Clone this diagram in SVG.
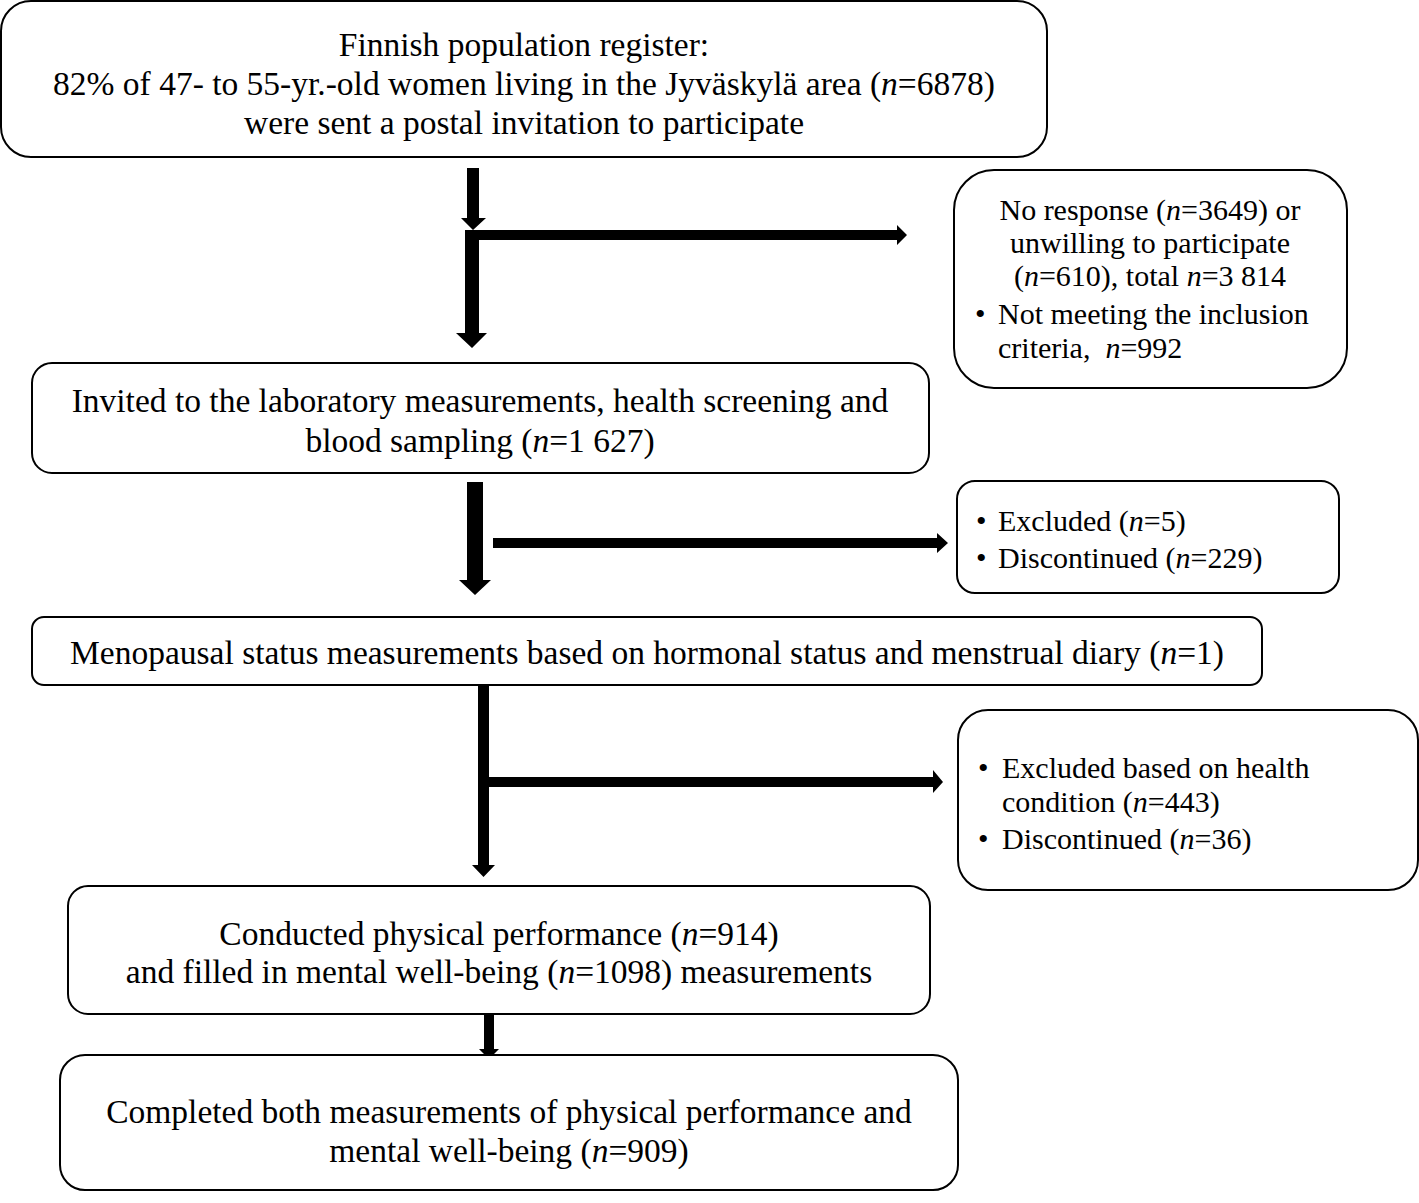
<svg xmlns="http://www.w3.org/2000/svg" width="1419" height="1203" viewBox="0 0 1419 1203">
<style>
.box{fill:#fff;stroke:#000;stroke-width:2}
text{font-family:"Liberation Serif","Times New Roman",serif;font-size:33.5px;fill:#000}
.s{font-size:30px}
.c{text-anchor:middle}
.arrow{fill:#000;stroke:none}
</style>
<rect width="1419" height="1203" fill="#fff"/>
<g id="connectors">
<path class="arrow" d="M467,168 H479 V218 H486 L473,230 L461,218 H467 Z"/>
<path class="arrow" d="M465,230 H897 V225 L907,235 L897,245 V240 H479 V333 H487 L472,348 L456,333 H465 Z"/>
<path class="arrow" d="M467,482 H483 V580 H491 L475,595 L459,580 H467 Z"/>
<path class="arrow" d="M493,538 H937 V533 L948,543 L937,553 V548 H493 Z"/>
<path class="arrow" d="M478,683 H489 V777 H933 V770 L943,782 L933,793 V787 H489 V865 H495 L483.5,877 L472,865 H478 Z"/>
<path class="arrow" d="M484,1005 H494 V1049 H499 L489,1059 L479,1049 H484 Z"/>
</g>
<g id="n1">
<rect class="box" x="1" y="1" width="1046" height="156" rx="30"/>
<text class="c" x="524" y="56">Finnish population register:</text>
<text class="c" x="524" y="95">82% of 47- to 55-yr.-old women living in the Jyväskylä area (<tspan font-style="italic">n</tspan>=6878)</text>
<text class="c" x="524" y="134">were sent a postal invitation to participate</text>
</g>
<g id="n1x">
<rect class="box" x="954" y="170" width="393" height="218" rx="40"/>
<text class="c s" x="1150" y="220">No response (<tspan font-style="italic">n</tspan>=3649) or</text>
<text class="c s" x="1150" y="253">unwilling to participate</text>
<text class="c s" x="1150" y="286">(<tspan font-style="italic">n</tspan>=610), total <tspan font-style="italic">n</tspan>=3 814</text>
<text class="s" x="975" y="324">•</text><text class="s" x="998" y="324">Not meeting the inclusion</text>
<text class="s" x="998" y="358" xml:space="preserve">criteria,  <tspan font-style="italic">n</tspan>=992</text>
</g>
<g id="n2">
<rect class="box" x="32" y="363" width="897" height="110" rx="20"/>
<text class="c" x="480" y="412">Invited to the laboratory measurements, health screening and</text>
<text class="c" x="480" y="452">blood sampling (<tspan font-style="italic">n</tspan>=1 627)</text>
</g>
<g id="n2x">
<rect class="box" x="957" y="481" width="382" height="112" rx="18"/>
<text class="s" x="976" y="531">•</text><text class="s" x="998" y="531">Excluded (<tspan font-style="italic">n</tspan>=5)</text>
<text class="s" x="976" y="568">•</text><text class="s" x="998" y="568">Discontinued (<tspan font-style="italic">n</tspan>=229)</text>
</g>
<g id="n3">
<rect class="box" x="32" y="617" width="1230" height="68" rx="12"/>
<text class="c" x="647" y="664">Menopausal status measurements based on hormonal status and menstrual diary (<tspan font-style="italic">n</tspan>=1)</text>
</g>
<g id="n3x">
<rect class="box" x="958" y="710" width="460" height="180" rx="30"/>
<text class="s" x="978" y="778">•</text><text class="s" x="1002" y="778">Excluded based on health</text>
<text class="s" x="1002" y="812">condition (<tspan font-style="italic">n</tspan>=443)</text>
<text class="s" x="978" y="849">•</text><text class="s" x="1002" y="849">Discontinued (<tspan font-style="italic">n</tspan>=36)</text>
</g>
<g id="n4">
<rect class="box" x="68" y="886" width="862" height="128" rx="20"/>
<text class="c" x="499" y="945">Conducted physical performance (<tspan font-style="italic">n</tspan>=914)</text>
<text class="c" x="499" y="983">and filled in mental well-being (<tspan font-style="italic">n</tspan>=1098) measurements</text>
</g>
<g id="n5">
<rect class="box" x="60" y="1055" width="898" height="135" rx="25"/>
<text class="c" x="509" y="1123">Completed both measurements of physical performance and</text>
<text class="c" x="509" y="1162">mental well-being (<tspan font-style="italic">n</tspan>=909)</text>
</g>
</svg>
